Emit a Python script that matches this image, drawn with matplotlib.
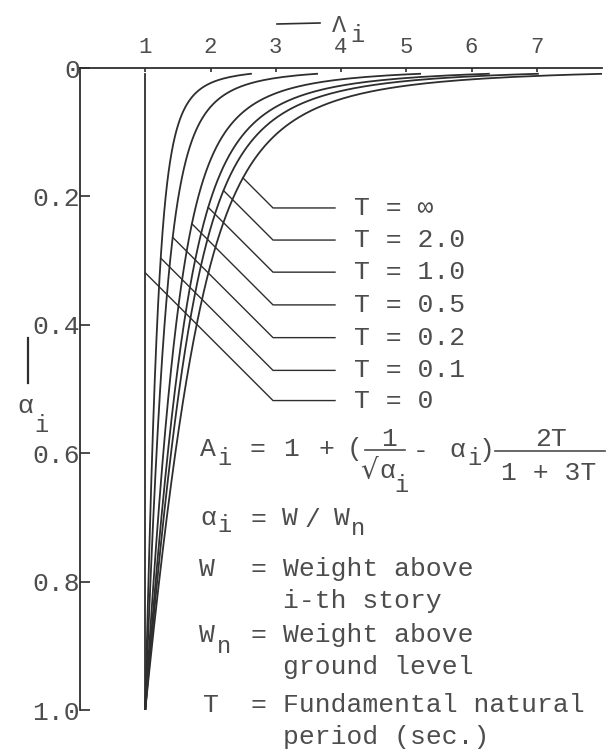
import numpy as np
import matplotlib
matplotlib.use("Agg")
import matplotlib.pyplot as plt
from matplotlib.lines import Line2D

plt.rcParams['font.family'] = ['Liberation Mono', 'DejaVu Sans Mono']

# Fundamental periods (sec.) of the plotted family, inf -> 2T/(1+3T) = 2/3
periods = [0.0, 0.1, 0.2, 0.5, 1.0, 2.0, np.inf]
period_labels = ['T = 0', 'T = 0.1', 'T = 0.2', 'T = 0.5', 'T = 1.0', 'T = 2.0', 'T = ∞']
# alpha level of each label row (label stack, T=0 at the bottom)
label_alpha = [0.518, 0.471, 0.420, 0.369, 0.318, 0.268, 0.218]

alpha_min = 0.009
alpha = np.linspace(alpha_min, 1.0, 800)

x_ticks = [1, 2, 3, 4, 5, 6, 7]
y_ticks = [0.0, 0.2, 0.4, 0.6, 0.8, 1.0]
y_ticklabels = ['0', '0.2', '0.4', '0.6', '0.8', '1.0']

ink = '#2e2e2e'
txt = '#4d4d4d'
FS = 19
SUB = 17


def ai_curve(T, a):
    factor = 2.0 / 3.0 if np.isinf(T) else 2 * T / (1 + 3 * T)
    return 1 + (1 / np.sqrt(a) - a) * factor


W, H = 613, 753
fig = plt.figure(figsize=(W / 100, H / 100), dpi=100)


def put(x, y, s, size=FS, ha='center', family=None):
    # x, y in pixels from the top-left corner, y is the text baseline
    kw = {} if family is None else {'family': family}
    fig.text(x / W, 1 - y / H, s, fontsize=size, color=txt, ha=ha, va='baseline', **kw)


def hline(x0, x1, y, lw=1.2):
    fig.add_artist(Line2D([x0 / W, x1 / W], [1 - y / H, 1 - y / H], color=txt, lw=lw))


ax_l, ax_t, ax_r, ax_b = 80, 68, 602, 710
ax = fig.add_axes([ax_l / W, 1 - ax_b / H, (ax_r - ax_l) / W, (ax_b - ax_t) / H])
ax.set_xlim(0, 8)
ax.set_ylim(1.0, 0.0)

for s in ['right', 'bottom']:
    ax.spines[s].set_visible(False)
for s in ['top', 'left']:
    ax.spines[s].set_color(ink)
    ax.spines[s].set_linewidth(1.3)

ax.xaxis.tick_top()
ax.set_xticks(x_ticks)
ax.set_xticklabels([str(v) for v in x_ticks], fontsize=16, color=txt)
ax.tick_params(axis='x', direction='in', length=3, width=1.2, color=ink, pad=7)
ax.set_yticks(y_ticks)
ax.set_yticklabels(y_ticklabels, fontsize=FS, color=txt)
ax.tick_params(axis='y', direction='in', length=7, width=1.2, color=ink, pad=0)

# pixel scale of the data axes, used to keep leaders at 45 degrees
px_x = (ax_r - ax_l) / 8.0
px_a = (ax_b - ax_t) / 1.0
corner_x = (273 - ax_l) / px_x
end_x = (335 - ax_l) / px_x
text_x = (354 - ax_l) / px_x

for T, lab, la in zip(periods, period_labels, label_alpha):
    ai = ai_curve(T, alpha) if T > 0 else np.ones_like(alpha)
    ax.plot(ai, alpha, color=ink, lw=1.3)

    # leader: 45 deg segment from the curve, then horizontal to the label
    x_line = corner_x - (la - alpha) * px_a / px_x
    diff = ai - x_line
    k = np.argmax(diff < 0)
    f = diff[k - 1] / (diff[k - 1] - diff[k])
    a0 = alpha[k - 1] + f * (alpha[k] - alpha[k - 1])
    x0 = ai[k - 1] + f * (ai[k] - ai[k - 1])
    ax.plot([x0, corner_x, end_x], [a0, la, la], color=ink, lw=1.0)
    ax.text(text_x, la, lab, fontsize=FS, color=txt, va='center', ha='left')

# axis captions
fig.add_artist(Line2D([277 / W, 320 / W], [1 - 24 / H, 1 - 23 / H], color=ink, lw=1.2))
put(339, 32, 'Λ', size=17)
put(357, 42, 'i', size=SUB)
fig.add_artist(Line2D([28 / W, 28 / W], [1 - 338 / H, 1 - 383 / H], color=ink, lw=1.6))
put(25, 413, 'α')
put(41, 432, 'i', size=SUB)

# A_i = 1 + (1/sqrt(alpha_i) - alpha_i) * 2T / (1 + 3T)
put(208, 456, 'A')
put(224, 465, 'i', size=SUB)
put(257, 456, '=')
put(291, 456, '1')
put(326, 456, '+')
put(355, 456, '(')
put(389, 446, '1')
hline(365, 405, 450)
put(369, 479, '√', size=20, family='DejaVu Sans')
put(387, 478, 'α')
put(401, 492, 'i', size=SUB)
put(421, 458, '-')
put(457, 457, 'α')
put(474, 465, 'i', size=SUB)
put(487, 457, ')')
put(551, 446, '2T')
hline(495, 605, 451)
put(549, 480, '1 + 3T')

# alpha_i = W / W_n
put(208, 525, 'α')
put(224, 532, 'i', size=SUB)
put(258, 526, '=')
put(290, 525, 'W')
put(312, 527, '/')
put(342, 525, 'W')
put(358, 535, 'n', size=SUB)

# symbol definitions
put(207, 576, 'W')
put(207, 642, 'W')
put(224, 653, 'n', size=SUB)
put(211, 712, 'T')
for y in [576, 642, 712]:
    put(258, y, '=')
rows = [(576, 'Weight above'), (608, 'i-th story'), (642, 'Weight above'),
        (674, 'ground level'), (712, 'Fundamental natural'), (744, 'period (sec.)')]
for y, desc in rows:
    put(283, y, desc, ha='left')

fig.savefig('out.png', dpi=100, facecolor='white')
